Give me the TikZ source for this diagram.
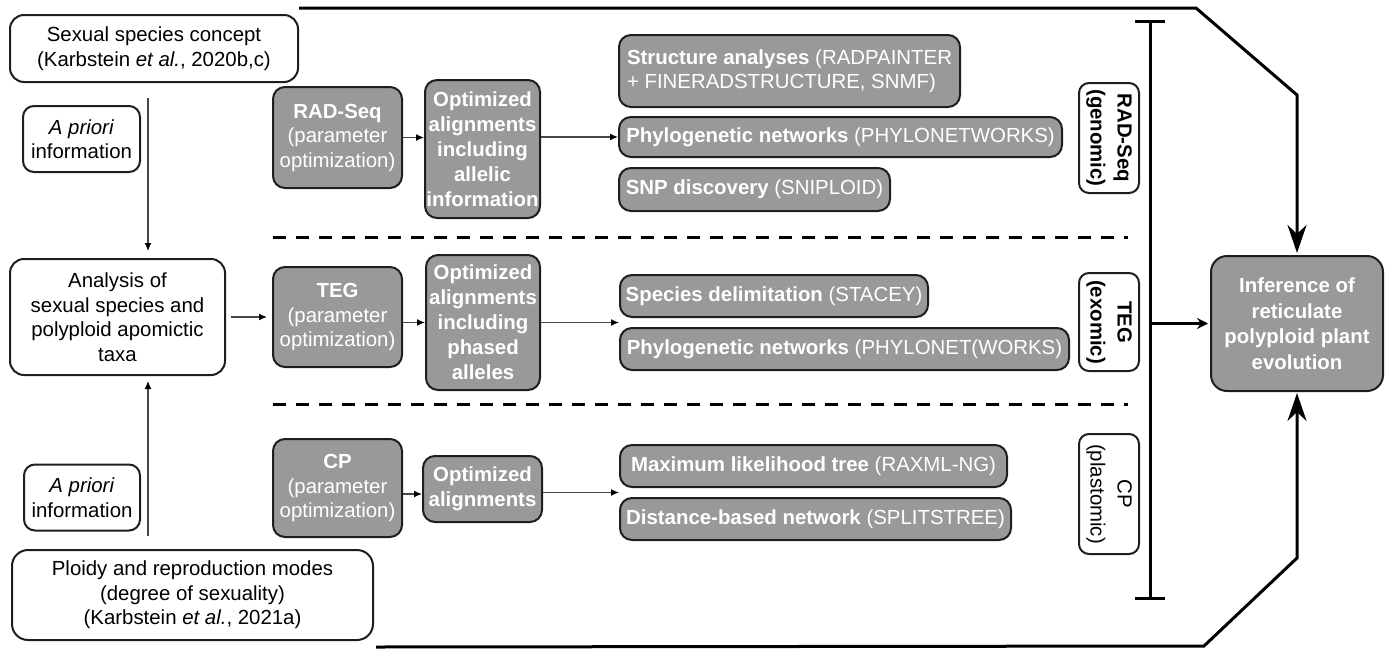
\documentclass[tikz,border=0pt]{standalone}
\usepackage{fontspec}
\setmainfont{Liberation Sans}
\usetikzlibrary{arrows.meta,calc}
\definecolor{boxgray}{RGB}{153,153,153}
\definecolor{edge}{RGB}{30,30,30}
\definecolor{thinline}{RGB}{70,70,70}
\begin{document}
\begin{tikzpicture}[x=1pt,y=-1pt,
  fnt/.style={font=\fontsize{20.4}{24.5}\selectfont},
  whitebox/.style={fnt,draw=edge,line width=2pt,rounded corners=14pt,fill=white,align=center,inner sep=0pt,text=black},
  graybox/.style={fnt,draw=edge,line width=2pt,rounded corners=12pt,fill=boxgray,align=center,inner sep=0pt,text=white},
  labbox/.style={font=\fontsize{20.4}{27}\selectfont,draw=edge,line width=2pt,rounded corners=10pt,fill=white,align=center,inner sep=0pt,rotate=-90,text=black},
  thinarrow/.style={line width=1.3pt,draw=thinline,-{Latex[length=8pt,width=7pt,color=black]}},
  frame/.style={line width=3pt,line join=miter},
  bigtip/.style={-{Stealth[length=28pt,width=19pt,inset=9pt]}},
  sep/.style={line width=3pt,dash pattern=on 13pt off 10pt}
]
\useasboundingbox (0,0) rectangle (1391,648);

% left column
\node[whitebox,minimum width=288pt,minimum height=67pt] (sexual) at (154,48.5)
  {Sexual species concept\\(Karbstein \textit{et al.}, 2020b,c)};
\node[whitebox,rounded corners=11pt,minimum width=117pt,minimum height=66pt] (apriori1) at (81.5,139)
  {\textit{A priori}\\information};
\node[whitebox,minimum width=215pt,minimum height=116pt] (analysis) at (117.5,317)
  {Analysis of\\sexual species and\\polyploid apomictic\\taxa};
\node[whitebox,rounded corners=11pt,minimum width=116pt,minimum height=66pt] (apriori2) at (82,497.5)
  {\textit{A priori}\\information};
\node[whitebox,rounded corners=16pt,minimum width=361pt,minimum height=90pt] (ploidy) at (192.5,595)
  {Ploidy and reproduction modes\\(degree of sexuality)\\(Karbstein \textit{et al.}, 2021a)};

% method boxes
\node[graybox,minimum width=129pt,minimum height=101pt] (rad) at (337.5,137.5)
  {\textbf{RAD-Seq}\\(parameter\\optimization)};
\node[graybox,minimum width=129pt,minimum height=100pt] (teg) at (337.5,317)
  {\textbf{TEG}\\(parameter\\optimization)};
\node[graybox,minimum width=129pt,minimum height=98pt] (cp) at (337.5,488)
  {\textbf{CP}\\(parameter\\optimization)};

\node[graybox,font=\fontsize{20.4}{25}\selectfont\bfseries,minimum width=115pt,minimum height=138pt] (optrad) at (482.5,149)
  {Optimized\\alignments\\including\\allelic\\information};
\node[graybox,font=\fontsize{20.4}{25}\selectfont\bfseries,minimum width=114pt,minimum height=135pt] (optteg) at (483,322.5)
  {Optimized\\alignments\\including\\phased\\alleles};
\node[graybox,font=\fontsize{20.4}{25}\selectfont\bfseries,minimum width=119pt,minimum height=66pt] (optcp) at (482.5,489)
  {Optimized\\alignments};

% analysis boxes
\node[graybox,align=left,minimum width=341pt,minimum height=72pt] (struct) at (789.5,71)
  {\textbf{Structure analyses} (RADPAINTER\\+ FINERADSTRUCTURE, SNMF)};
\node[graybox,minimum width=443pt,minimum height=40pt] (phyrad) at (840.5,137)
  {\textbf{Phylogenetic networks} (PHYLONETWORKS)};
\node[graybox,minimum width=271pt,minimum height=43pt] (snp) at (754.5,189.5)
  {\textbf{SNP discovery} (SNIPLOID)};
\node[graybox,minimum width=308pt,minimum height=42pt] (species) at (774,296)
  {\textbf{Species delimitation} (STACEY)};
\node[graybox,minimum width=449pt,minimum height=42pt] (phyteg) at (844.5,349)
  {\textbf{Phylogenetic networks} (PHYLONET(WORKS)};
\node[graybox,minimum width=387pt,minimum height=42pt] (ml) at (813.5,466)
  {\textbf{Maximum likelihood tree} (RAXML-NG)};
\node[graybox,minimum width=391pt,minimum height=42pt] (dist) at (815.5,519)
  {\textbf{Distance-based network} (SPLITSTREE)};

% rotated labels
\node[labbox,font=\fontsize{20.4}{27}\selectfont\bfseries,minimum width=110pt,minimum height=60pt] (labrad) at (1109,138) {RAD-Seq\\(genomic)};
\node[labbox,font=\fontsize{20.4}{27}\selectfont\bfseries,minimum width=98pt,minimum height=60pt] (labteg) at (1109,322) {TEG\\(exomic)};
\node[labbox,minimum width=120pt,minimum height=60pt] (labcp) at (1109,494) {CP\\(plastomic)};

% inference box
\node[graybox,rounded corners=16pt,font=\fontsize{20.4}{25.5}\selectfont\bfseries,minimum width=172pt,minimum height=135pt] (infer) at (1297,323.5)
  {Inference of\\reticulate\\polyploid plant\\evolution};

% separators
\draw[sep] (273,237.5) -- (1128,237.5);
\draw[sep] (273,404.5) -- (1128,404.5);

% frame
\coordinate (topstart) at ($(sexual.north east)+(0,-6)$);
\coordinate (topcorner) at (1196,8);
\coordinate (topbend) at (1297,95);
\draw[frame,bigtip] (topstart) -- (topcorner) -- (topbend) -- ($(infer.north)+(0,-2)$);
\coordinate (botstart) at ($(ploidy.south east)+(2,6)$);
\coordinate (botcorner) at (1204,646);
\coordinate (botbend) at (1297,558);
\draw[frame,bigtip] (botstart) -- (botcorner) -- (botbend) -- ($(infer.south)+(0,1)$);

% bar
\coordinate (bartop) at (1150,20);
\coordinate (barbot) at (1150,600);
\draw[frame,{Bar[width=30pt]}-{Bar[width=30pt]}] (bartop) -- (barbot);
\draw[frame,-{Stealth[length=11pt,width=11pt]}] (infer.west -| bartop) -- ($(infer.west)+(-2,0)$);

% left connectors
\coordinate (vx) at (148,0);
\draw[thinarrow,shorten >=7pt] ($(sexual.south -| vx)+(0,15)$) -- (analysis.north -| vx);
\draw[thinarrow,shorten >=5pt] ($(ploidy.north -| vx)+(0,-13)$) -- (analysis.south -| vx);
\draw[thinarrow,shorten <=5pt,shorten >=5pt] (analysis.east) -- (analysis.east -| teg.west);

% row connectors
\draw[thinarrow] (rad.east) -- (rad.east -| optrad.west);
\draw[thinarrow] (optrad.east |- phyrad.west) -- (phyrad.west);
\draw[thinarrow] (optteg.west -| teg.east) -- (optteg.west);
\coordinate (tegmid) at ($(species.south west)!0.5!(phyteg.north west)$);
\draw[thinarrow] (optteg.east |- tegmid) -- (tegmid);
\draw[thinarrow] ($(cp.east)+(0,6)$) -- ($(cp.east -| optcp.west)+(0,6)$);
\coordinate (cpmid) at ($(ml.south west)!0.5!(dist.north west)$);
\draw[thinarrow] (optcp.east |- cpmid) -- (cpmid);
\end{tikzpicture}
\end{document}
